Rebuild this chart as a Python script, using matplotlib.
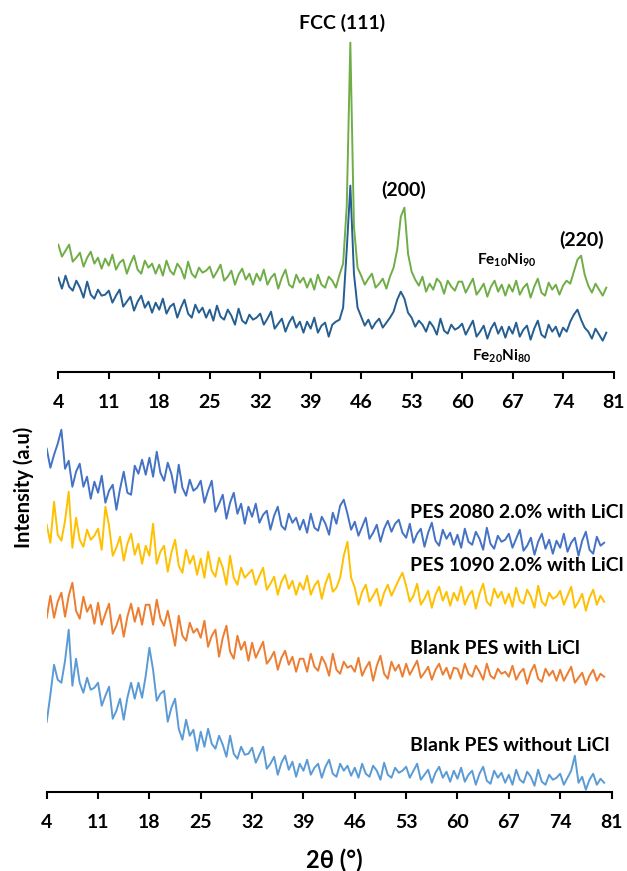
import matplotlib
matplotlib.use("Agg")
import matplotlib.pyplot as plt
import numpy as np

plt.rcParams['font.family'] = ['Lato', 'DejaVu Sans']
plt.rcParams['font.weight'] = 'bold'
plt.rcParams['mathtext.fontset'] = 'custom'
plt.rcParams['mathtext.rm'] = 'Lato:bold'
plt.rcParams['mathtext.bf'] = 'Lato:bold'

# 2theta sampling (deg), 4 .. 80 step 0.5
two_theta = np.arange(4, 80.25, 0.5)

# top panel: alloy powders (a.u.)
fe10ni90 = [
    127, 115, 121, 127, 110, 114, 119, 105, 114, 120, 108, 114, 103, 113,
    106, 117, 102, 109, 112, 98, 108, 116, 102, 98, 111, 104, 108, 98,
    107, 96, 111, 101, 97, 108, 103, 93, 110, 98, 94, 104, 99, 101,
    105, 94, 100, 107, 91, 95, 101, 87, 97, 103, 92, 98, 87, 98,
    91, 102, 87, 94, 98, 83, 94, 102, 87, 84, 97, 89, 94, 84,
    93, 82, 97, 87, 84, 95, 91, 84, 97, 108, 165, 329, 145, 104,
    96, 87, 93, 98, 84, 88, 93, 83, 95, 104, 122, 155, 164, 118,
    100, 92, 86, 95, 80, 88, 82, 93, 89, 78, 91, 85, 81, 90,
    90, 79, 86, 93, 77, 82, 88, 75, 85, 91, 80, 87, 76, 87,
    80, 91, 77, 84, 88, 74, 85, 93, 79, 76, 89, 82, 87, 77,
    86, 91, 88, 100, 112, 116, 97, 86, 79, 88, 82, 76, 84,
]
fe20ni80 = [
    94, 83, 96, 85, 81, 91, 84, 74, 90, 77, 73, 82, 76, 77,
    81, 69, 76, 82, 65, 70, 75, 61, 70, 76, 64, 70, 59, 69,
    62, 73, 58, 65, 68, 54, 64, 72, 58, 54, 67, 59, 64, 54,
    62, 51, 66, 55, 52, 62, 56, 47, 63, 51, 48, 57, 52, 54,
    58, 47, 53, 60, 43, 48, 53, 40, 49, 55, 44, 50, 39, 50,
    43, 54, 39, 46, 49, 35, 47, 50, 52, 64, 122, 186, 98, 64,
    55, 46, 52, 43, 49, 53, 44, 49, 54, 60, 72, 80, 73, 59,
    54, 45, 51, 47, 40, 50, 45, 37, 53, 41, 38, 47, 42, 44,
    48, 37, 44, 51, 35, 40, 46, 33, 43, 49, 38, 45, 34, 45,
    38, 49, 35, 42, 46, 32, 43, 51, 37, 34, 47, 40, 45, 35,
    44, 40, 50, 57, 62, 52, 44, 40, 33, 43, 37, 31, 39,
]

# bottom panel: membranes (a.u.)
pes2080 = [
    343, 324, 337, 348, 362, 323, 331, 305, 320, 328, 305, 315, 293, 310,
    299, 316, 289, 301, 307, 282, 303, 320, 299, 297, 326, 318, 332, 317,
    334, 315, 340, 319, 311, 329, 318, 299, 327, 304, 296, 312, 301, 304,
    311, 289, 301, 311, 280, 288, 297, 273, 289, 299, 278, 288, 268, 285,
    275, 288, 269, 277, 281, 262, 276, 285, 266, 262, 278, 269, 274, 262,
    272, 259, 278, 264, 261, 275, 268, 257, 279, 268, 286, 292, 278, 262,
    270, 256, 265, 274, 253, 259, 267, 250, 263, 271, 260, 268, 272, 259,
    254, 268, 249, 258, 263, 245, 259, 269, 251, 246, 262, 253, 259, 247,
    257, 244, 263, 250, 247, 260, 253, 242, 264, 248, 243, 256, 250, 252,
    258, 244, 253, 262, 241, 246, 254, 237, 250, 258, 243, 252, 238, 251,
    244, 258, 240, 249, 254, 236, 251, 260, 242, 238, 255, 246, 249,
]
pes1090 = [
    267, 249, 290, 257, 251, 271, 300, 244, 274, 252, 245, 262, 252, 256,
    263, 242, 285, 266, 236, 244, 255, 231, 248, 258, 237, 248, 228, 246,
    236, 268, 228, 240, 246, 220, 239, 252, 226, 219, 242, 228, 236, 217,
    233, 214, 240, 221, 215, 234, 224, 207, 236, 214, 207, 224, 214, 218,
    222, 207, 216, 224, 202, 208, 215, 197, 210, 217, 203, 211, 197, 209,
    202, 216, 197, 206, 211, 193, 208, 218, 200, 204, 214, 236, 250, 214,
    204, 187, 200, 207, 190, 196, 203, 186, 199, 207, 196, 204, 212, 219,
    206, 190, 196, 208, 187, 193, 201, 184, 197, 205, 191, 200, 186, 199,
    191, 205, 187, 196, 201, 183, 198, 208, 190, 186, 203, 194, 200, 188,
    198, 185, 204, 191, 188, 202, 195, 184, 206, 190, 186, 199, 193, 195,
    201, 187, 196, 205, 184, 190, 198, 181, 194, 202, 187, 196, 190,
]
blank_licl = [
    174, 196, 174, 190, 199, 175, 196, 209, 181, 173, 195, 180, 187, 168,
    189, 167, 178, 188, 158, 166, 177, 155, 175, 188, 170, 184, 167, 187,
    187, 167, 192, 173, 166, 181, 164, 146, 176, 156, 151, 169, 159, 163,
    154, 171, 145, 156, 162, 135, 154, 166, 140, 133, 156, 142, 150, 131,
    149, 134, 142, 150, 128, 133, 140, 122, 134, 141, 127, 135, 120, 133,
    133, 120, 138, 125, 121, 135, 128, 116, 138, 122, 118, 130, 124, 126,
    120, 134, 116, 124, 130, 111, 126, 136, 118, 113, 130, 121, 127, 115,
    128, 117, 124, 131, 114, 119, 125, 112, 122, 128, 117, 124, 113, 124,
    123, 113, 128, 118, 115, 126, 120, 112, 128, 116, 113, 123, 118, 120,
    115, 126, 112, 119, 123, 108, 120, 127, 113, 110, 123, 116, 121, 111,
    122, 111, 118, 125, 109, 114, 119, 107, 116, 122, 111, 118, 115,
]
blank_no_licl = [
    70, 97, 127, 112, 109, 131, 162, 106, 133, 109, 99, 114, 102, 104,
    109, 86, 96, 105, 73, 81, 93, 72, 94, 109, 93, 109, 94, 116,
    144, 122, 91, 98, 101, 70, 84, 93, 63, 52, 72, 56, 62, 41,
    60, 45, 63, 48, 43, 56, 47, 35, 56, 38, 33, 45, 37, 38,
    44, 29, 37, 45, 23, 28, 35, 17, 29, 36, 22, 30, 15, 28,
    21, 32, 17, 24, 28, 14, 25, 32, 18, 15, 28, 21, 26, 16,
    24, 14, 28, 18, 15, 26, 21, 12, 29, 17, 14, 24, 19, 21,
    25, 14, 21, 28, 12, 17, 22, 9, 19, 25, 14, 20, 10, 21,
    13, 24, 10, 17, 21, 7, 18, 25, 11, 8, 21, 14, 19, 9,
    17, 7, 22, 12, 9, 20, 15, 6, 22, 10, 7, 17, 12, 14,
    18, 7, 14, 21, 36, 9, 15, 2, 12, 18, 7, 13, 9,
]

xticks = [4, 11, 18, 25, 32, 39, 46, 53, 60, 67, 74, 81]

fig = plt.figure(figsize=(6.27, 8.71), dpi=100)
ax1 = fig.add_axes([0.0930, 0.5733, 0.8855, 0.3923])
ax2 = fig.add_axes([0.0745, 0.0910, 0.9008, 0.4325])

lw = 1.4
ax1.plot(two_theta, fe20ni80, color='#255E91', lw=lw)
ax1.plot(two_theta, fe10ni90, color='#70AD47', lw=lw)
ax1.set_ylim(0, 341.7)

ax2.plot(two_theta, pes2080, color='#4472C4', lw=lw)
ax2.plot(two_theta, pes1090, color='#FFC000', lw=lw)
ax2.plot(two_theta, blank_licl, color='#ED7D31', lw=lw)
ax2.plot(two_theta, blank_no_licl, color='#5B9BD5', lw=lw)
ax2.set_ylim(0, 376.7)

for ax in (ax1, ax2):
    ax.set_xlim(4, 81)
    ax.set_xticks(xticks)
    ax.set_yticks([])
    for s in ('left', 'top', 'right'):
        ax.spines[s].set_visible(False)
    ax.spines['bottom'].set_linewidth(1.5)
    ax.tick_params(axis='x', direction='out', length=5, width=1.5,
                   labelsize=14, pad=11)
    ax.patch.set_visible(False)

fs = 14
ax1.text(43.35, 348.7, 'FCC (111)', ha='center', va='center', fontsize=fs, clip_on=False)
ax1.text(51.95, 181.7, '(200)', ha='center', va='center', fontsize=fs)
ax1.text(76.5, 131.7, '(220)', ha='center', va='center', fontsize=fs)
ax1.text(66.2, 111.7, r'$\mathrm{Fe_{10}Ni_{90}}$', ha='center', va='center', fontsize=11)
ax1.text(65.5, 15.7, r'$\mathrm{Fe_{20}Ni_{80}}$', ha='center', va='center', fontsize=11)

ax2.text(53.5, 279.7, 'PES 2080 2.0% with LiCl', ha='left', va='center', fontsize=fs)
ax2.text(53.5, 226.7, 'PES 1090 2.0% with LiCl', ha='left', va='center', fontsize=fs)
ax2.text(53.5, 143.7, 'Blank PES with LiCl', ha='left', va='center', fontsize=fs)
ax2.text(53.5, 46.7, 'Blank PES without LiCl', ha='left', va='center', fontsize=fs)

fig.text(24 / 627, 1 - 487 / 871, 'Intensity (a.u)', rotation=90,
         ha='center', va='center', fontsize=14.5)
fig.text(334 / 627, 1 - 860 / 871, '2θ (°)', ha='center', va='center', fontsize=17)

fig.savefig('out.png', dpi=100)
